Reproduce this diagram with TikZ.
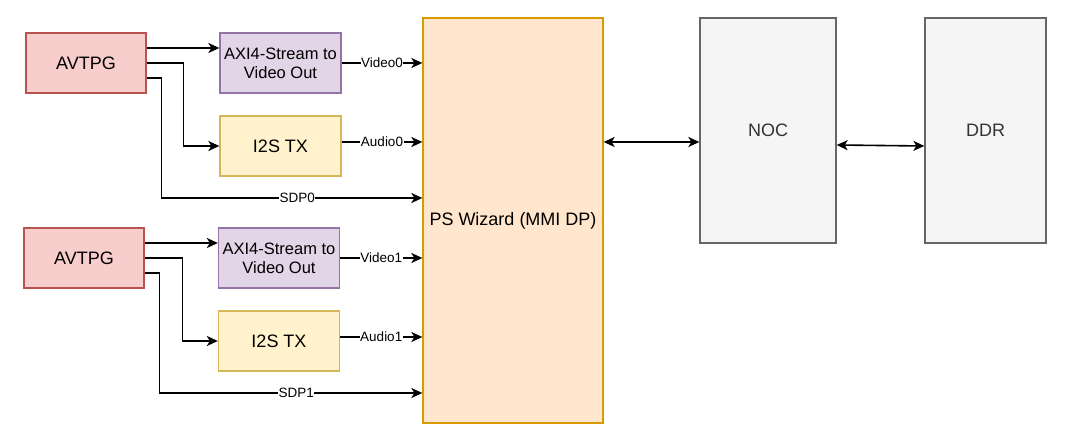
\documentclass[tikz,border=0pt]{standalone}
\usepackage{xcolor}
\usepackage{fontspec}
\setmainfont{Liberation Sans}
\usetikzlibrary{arrows.meta, positioning}

\definecolor{genfill}{HTML}{F8CECC}
\definecolor{gendraw}{HTML}{B85450}
\definecolor{axifill}{HTML}{E1D5E7}
\definecolor{axidraw}{HTML}{9673A6}
\definecolor{i2sfill}{HTML}{FFF2CC}
\definecolor{i2sdraw}{HTML}{D6B656}
\definecolor{psfill}{HTML}{FFE6CC}
\definecolor{psdraw}{HTML}{D79B00}
\definecolor{memfill}{HTML}{F5F5F5}
\definecolor{memdraw}{HTML}{666666}
\definecolor{memtext}{HTML}{333333}

\tikzset{
  blk/.style={draw, line width=1.3pt, rectangle, inner sep=0pt, align=center,
    font=\fontsize{18}{20}\selectfont},
  gen/.style={blk, fill=genfill, draw=gendraw, minimum width=120pt, minimum height=60pt},
  axi/.style={blk, fill=axifill, draw=axidraw, minimum width=121pt, minimum height=60pt,
    font=\fontsize{16.5}{19}\selectfont},
  i2s/.style={blk, fill=i2sfill, draw=i2sdraw, minimum width=121pt, minimum height=60pt},
  mem/.style={blk, fill=memfill, draw=memdraw, text=memtext},
  lbl/.style={fill=white, inner sep=0.5pt, font=\fontsize{13.5}{15}\selectfont},
  tip/.tip={Stealth[length=11pt, width=10pt, inset=3pt]},
}

\begin{document}
\begin{tikzpicture}[x=1pt, y=-1pt]
        \useasboundingbox (0,0) rectangle (1090,435);
        \begin{scope}
          \node[gen] (gen0) at (86,63) {AVTPG};
          \node[axi] (axi0) at (280.5,63) {AXI4-Stream to\\Video Out};
          \node[i2s] (i2s0) at (280.5,146) {I2S TX};
          \node[gen] (gen1) at (84,258) {AVTPG};
          \node[axi] (axi1) at (279,258) {AXI4-Stream to\\Video Out};
          \node[i2s] (i2s1) at (279,341) {I2S TX};
          \node[blk, fill=psfill, draw=psdraw, minimum width=180pt, minimum height=405pt] (ps) at (513,220.5) {PS Wizard (MMI DP)};
          \node[mem, minimum width=136pt, minimum height=225pt] (noc) at (768,130.5) {NOC};
          \node[mem, minimum width=121pt, minimum height=225pt] (ddr) at (985.5,130.5) {DDR};
        \end{scope}
        \begin{scope}[every path/.style={draw=black, line width=1.6pt, -tip}]
          % stream 0
          \path ([yshift=15pt]gen0.east) -- ([yshift=15pt]axi0.west);
          \path (gen0.east) -- ++(37,0) |- (i2s0.west);
          \path ([yshift=-15pt]gen0.east) -- ++(15,0) |- (ps.west |- 0,198) node[lbl, pos=0.76] {SDP0};
          \path (axi0.east) -- (ps.west |- axi0.east) node[lbl, midway] {Video0};
          \path ([yshift=4pt]i2s0.east) -- (ps.west |- 0,142) node[lbl, midway] {Audio0};
          % stream 1
          \path ([yshift=15pt]gen1.east) -- ([yshift=15pt]axi1.west);
          \path (gen1.east) -- ++(38,0) |- (i2s1.west);
          \path ([yshift=-15pt]gen1.east) -- ++(15,0) |- (ps.west |- 0,393) node[lbl, pos=0.76] {SDP1};
          \path (axi1.east) -- (ps.west |- axi1.east) node[lbl, midway] {Video1};
          \path ([yshift=4pt]i2s1.east) -- (ps.west |- 0,337) node[lbl, midway] {Audio1};
          % memory side
          \path[tip-tip] (ps.east |- 0,142) -- (noc.west |- 0,142);
          \path[tip-tip] (noc.east |- 0,145) -- (ddr.west |- 0,146);
        \end{scope}
      \end{tikzpicture}
\end{document}
